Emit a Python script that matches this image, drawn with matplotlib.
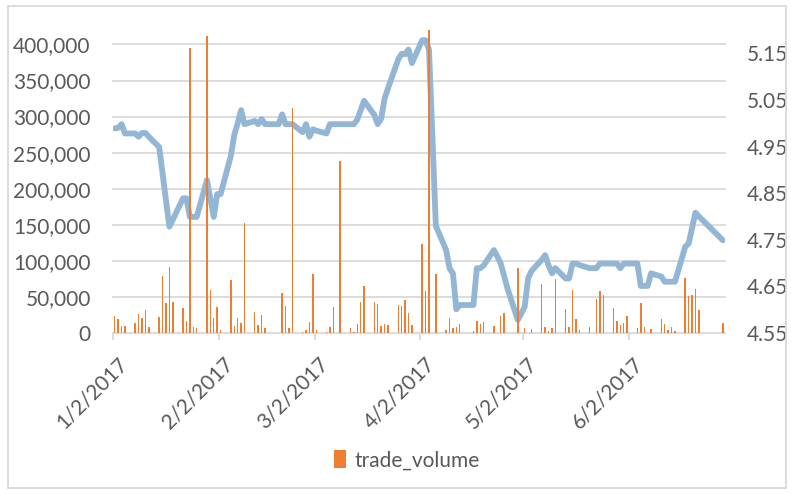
import matplotlib
matplotlib.use("Agg")
import matplotlib.pyplot as plt
import matplotlib.dates as mdates
import matplotlib.transforms as mtransforms
from matplotlib.patches import Rectangle
import pandas as pd
import numpy as np

# ---------------- data ----------------
# trading days (Sunday - Thursday market week), holiday break at the end of June
trade_dates = pd.bdate_range('2017-01-02', '2017-06-22', freq='C',
                             weekmask='Sun Mon Tue Wed Thu').append(
    pd.DatetimeIndex(['2017-06-29']))

trade_volume = [
    23600, 19400, 9700, 9700,
    13900, 26400, 21300, 31500, 8800,
    22700, 79200, 41200, 91200, 43100,
    34300, 16700, 395000, 8800, 6900,
    412000, 59300, 20400, 35600, 4200,
    73600, 10200, 20800, 13400, 152000,
    29200, 11100, 25000, 7400, 0,
    0, 55100, 38000, 7400, 312000,
    1400, 4200, 14800, 81500, 4200,
    1400, 8300, 35600, 0, 239000,
    6900, 900, 12500, 42600, 64800,
    43100, 40300, 9700, 12500, 10600,
    38900, 37500, 45800, 27300, 11100,
    123600, 58300, 430000, 0, 82400,
    4200, 20800, 7400, 7900, 12000,
    0, 2300, 17100, 12000, 14800,
    9700, 0, 24000, 27800, 0,
    90300, 0, 6500, 0, 5100,
    67600, 7900, 3200, 7400, 74500,
    33300, 7900, 59700, 19400, 4200,
    7900, 0, 47700, 58300, 52800,
    34300, 16700, 11100, 14400, 23600,
    7400, 41200, 8800, 0, 6000,
    19000, 12500, 4600, 8300, 2800,
    76400, 51900, 52300, 60600, 32400,
    14400,
]

price = [
    4.989, 4.990, 4.998, 4.978,
    4.978, 4.971, 4.979, 4.979, 4.971,
    4.949, 4.893, 4.835, 4.778, 4.793,
    4.839, 4.839, 4.799, 4.799, 4.799,
    4.878, 4.838, 4.799, 4.848, 4.848,
    4.930, 4.975, 5.000, 5.028, 4.998,
    5.005, 4.998, 5.009, 4.998, 4.998,
    4.998, 5.019, 4.998, 4.998, 4.998,
    4.981, 4.998, 4.971, 4.987, 4.984,
    4.978, 4.998, 4.998, 4.998, 4.998,
    4.998, 4.998, 5.008, 5.028, 5.048,
    5.018, 4.998, 5.010, 5.053, 5.075,
    5.137, 5.149, 5.148, 5.158, 5.129,
    5.178, 5.178, 5.158, 4.970, 4.780,
    4.728, 4.689, 4.678, 4.601, 4.610,
    4.610, 4.610, 4.689, 4.689, 4.695,
    4.728, 4.714, 4.699, 4.672, 4.645,
    4.578, 4.592, 4.606, 4.667, 4.683,
    4.707, 4.717, 4.695, 4.678, 4.689,
    4.667, 4.667, 4.699, 4.699, 4.696,
    4.689, 4.689, 4.689, 4.699, 4.699,
    4.699, 4.699, 4.689, 4.699, 4.699,
    4.699, 4.651, 4.651, 4.651, 4.678,
    4.671, 4.660, 4.660, 4.660, 4.660,
    4.735, 4.742, 4.775, 4.808, 4.800,
    4.749,
]

tick_dates = ['2017-01-02', '2017-02-02', '2017-03-02',
              '2017-04-02', '2017-05-02', '2017-06-02']
tick_labels = ['1/2/2017', '2/2/2017', '3/2/2017',
               '4/2/2017', '5/2/2017', '6/2/2017']
left_ticks = list(range(0, 400001, 50000))
right_ticks = [4.55, 4.65, 4.75, 4.85, 4.95, 5.05, 5.15]

# ---------------- style ----------------
plt.rcParams['font.family'] = ['Lato', 'DejaVu Sans']
TXT = '#595959'
GRID = '#D9D9D9'
BAR = '#ED7D31'
LINE = '#93B6D5'

W, H = 791, 494
fig = plt.figure(figsize=(W / 100, H / 100), dpi=100)
fig.patch.set_facecolor('white')

left_px, right_px, top_px, bot_px = 113, 724.5, 30, 333
rect = [left_px / W, 1 - bot_px / H, (right_px - left_px) / W, (bot_px - top_px) / H]
ax_line = fig.add_axes(rect)
ax_bar = ax_line.twinx()

x = mdates.date2num(trade_dates.to_pydatetime()) + 0.5

# line (right scale) on the lower axes
ax_line.plot(x, price, color=LINE, lw=4.2, solid_joinstyle='round',
             solid_capstyle='round', zorder=3)
ax_line.set_ylim(4.55, 5.2)

# bars (left scale) on the upper axes
bars = ax_bar.bar(x, trade_volume, width=0.42, color=BAR, linewidth=0,
                  label='trade_volume', zorder=3)
ax_bar.set_ylim(0, 420000)

# gridlines at left-axis values, drawn underneath the line
blend = mtransforms.blended_transform_factory(ax_line.transAxes, ax_bar.transData)
for v in left_ticks[1:]:
    ax_line.plot([0, 1], [v, v], transform=blend, color=GRID, lw=1.3,
                 zorder=1, clip_on=False)

xmin = mdates.date2num(pd.Timestamp('2017-01-02'))
xmax = mdates.date2num(pd.Timestamp('2017-06-30'))
for a in (ax_line, ax_bar):
    a.set_xlim(xmin, xmax)
    for s in ('top', 'left', 'right', 'bottom'):
        a.spines[s].set_visible(False)

# left axis labels (volume)
ax_bar.yaxis.tick_left()
ax_bar.set_yticks(left_ticks)
ax_bar.set_yticklabels([f'{v:,}' for v in left_ticks])
ax_bar.tick_params(axis='y', length=0, pad=16, labelsize=15, labelcolor=TXT)

# right axis labels (price)
ax_line.yaxis.tick_right()
ax_line.set_yticks(right_ticks)
ax_line.set_yticklabels([f'{v:.2f}' for v in right_ticks])
ax_line.tick_params(axis='y', length=0, pad=16, labelsize=15, labelcolor=TXT)

# x axis
ax_line.spines['bottom'].set_visible(True)
ax_line.spines['bottom'].set_color(GRID)
ax_line.spines['bottom'].set_linewidth(1.3)
tick_pos = [mdates.date2num(pd.Timestamp(d)) for d in tick_dates]
ax_line.set_xticks(tick_pos)
ax_line.set_xticklabels(tick_labels, rotation=45, ha='right', va='top',
                        rotation_mode='anchor')
ax_line.tick_params(axis='x', direction='out', length=5, width=1.3,
                    color=GRID, pad=10, labelsize=15, labelcolor=TXT)
ax_bar.tick_params(axis='x', bottom=False, labelbottom=False)
off = mtransforms.ScaledTranslation(4 / 100, 0, fig.dpi_scale_trans)
for lab in ax_line.get_xticklabels():
    lab.set_transform(lab.get_transform() + off)

# legend
leg = fig.legend(handles=[bars], labels=['trade_volume'], loc='center',
                 bbox_to_anchor=(407 / W, 1 - 460 / H), frameon=False,
                 fontsize=15, handlelength=0.6, handleheight=1.0,
                 handletextpad=0.4, labelcolor=TXT)

# chart border
fig.patches.append(Rectangle((7.5 / W, 1 - 488 / H), (786 - 7.5) / W,
                             (488 - 6) / H, transform=fig.transFigure,
                             fill=False, edgecolor=GRID, lw=1.3))

fig.savefig('out.png', dpi=100)
